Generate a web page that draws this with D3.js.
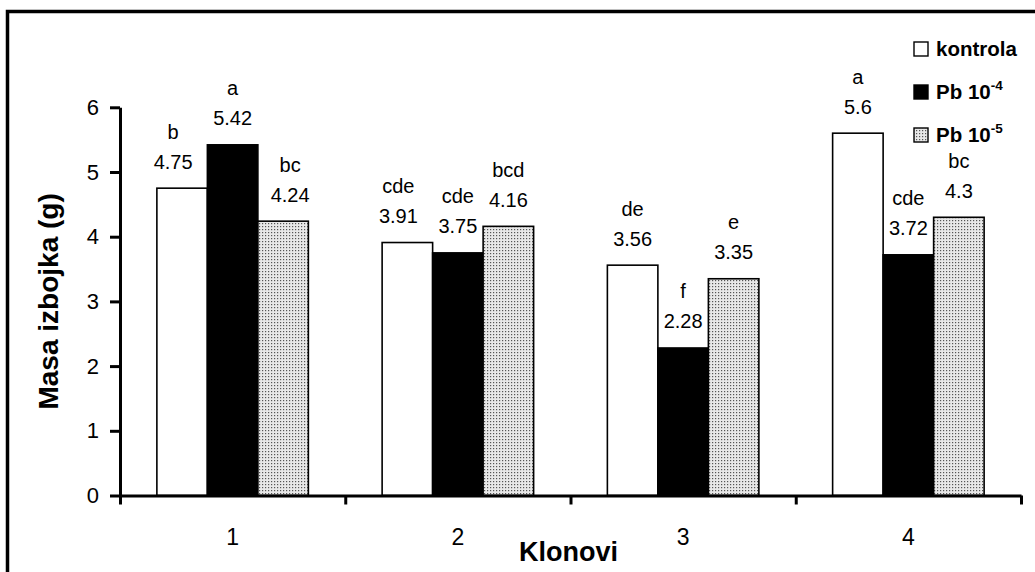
<!DOCTYPE html>
<html>
<head>
<meta charset="utf-8">
<script src="https://cdn.jsdelivr.net/npm/d3@7"></script>
<style>
  html, body { margin: 0; padding: 0; background: #fff; }
  svg { display: block; font-family: "Liberation Sans", Arial, sans-serif; }
</style>
</head>
<body>
<svg id="chart" width="1035" height="572"></svg>
<script>
// Shoot mass per clone, control vs. two lead treatments
const categories = ["1", "2", "3", "4"];
const kontrola = [4.75, 3.91, 3.56, 5.6];
const pb4 = [5.42, 3.75, 2.28, 3.72];
const pb5 = [4.24, 4.16, 3.35, 4.3];
const kontrolaLetters = ["b", "cde", "de", "a"];
const pb4Letters = ["a", "cde", "f", "cde"];
const pb5Letters = ["bc", "bcd", "e", "bc"];
const legendBase = ["kontrola", "Pb 10", "Pb 10"];
const legendExp = ["", "-4", "-5"];
const yTicks = [0, 1, 2, 3, 4, 5, 6];
const yTitle = "Masa izbojka (g)";
const xTitle = "Klonovi";

const series = [
  { values: kontrola, letters: kontrolaLetters, fill: "#fff" },
  { values: pb4, letters: pb4Letters, fill: "#000" },
  { values: pb5, letters: pb5Letters, fill: "url(#dots)" }
];

const svg = d3.select("#chart");

// dotted fill
const defs = svg.append("defs");
const pat = defs.append("pattern")
  .attr("id", "dots").attr("width", 3).attr("height", 3)
  .attr("patternUnits", "userSpaceOnUse");
pat.append("rect").attr("width", 3).attr("height", 3).attr("fill", "#e8e8e8");
pat.append("rect").attr("x", 1).attr("y", 1).attr("width", 1.2).attr("height", 1.2).attr("fill", "#555");

// outer frame (open to the right and bottom)
svg.append("path")
  .attr("d", "M7.5,580 L7.5,11.5 L1040,11.5")
  .attr("fill", "none").attr("stroke", "#000").attr("stroke-width", 3.5);

const plotLeft = 120, plotRight = 1021, plotTop = 107.3, plotBottom = 495.5;

const y = d3.scaleLinear().domain([0, 6]).range([plotBottom, plotTop]);
const x = d3.scaleBand().domain(categories).range([plotLeft, plotRight]).padding(0);
const groupW = 151.5;
const xs = d3.scaleBand().domain(d3.range(series.length)).range([0, groupW]).padding(0);

// bars
const bars = svg.append("g");
series.forEach((s, si) => {
  bars.selectAll(null)
    .data(s.values)
    .join("rect")
    .attr("x", (d, i) => x(categories[i]) + x.bandwidth() / 2 - groupW / 2 + xs(si))
    .attr("y", d => y(d))
    .attr("width", xs.bandwidth())
    .attr("height", d => y(0) - y(d))
    .attr("fill", s.fill)
    .attr("stroke", "#000")
    .attr("stroke-width", 1.6);
});

// value and significance labels above each bar
const nudge = { "0-0": -9, "0-2": 7, "1-0": -9 };
const labels = svg.append("g").attr("font-size", 20).attr("text-anchor", "middle").attr("fill", "#000");
series.forEach((s, si) => {
  s.values.forEach((v, i) => {
    const cx = x(categories[i]) + x.bandwidth() / 2 - groupW / 2 + xs(si) + xs.bandwidth() / 2 + (nudge[i + "-" + si] || 0);
    const base = y(v) - 19.5;
    labels.append("text").attr("x", cx).attr("y", base).text(String(v));
    labels.append("text").attr("x", cx).attr("y", base - 30).text(s.letters[i]);
  });
});

// y axis
const yAxis = svg.append("g")
  .attr("transform", `translate(${plotLeft},0)`)
  .call(d3.axisLeft(y).tickValues(yTicks).tickFormat(d3.format("d"))
    .tickSize(10).tickPadding(11).tickSizeOuter(0));
yAxis.select(".domain").attr("stroke-width", 3);
yAxis.selectAll(".tick line").attr("stroke-width", 3);
yAxis.selectAll(".tick text").attr("font-size", 22).attr("font-family", "Liberation Sans, Arial, sans-serif").attr("fill", "#000");

// x axis: ticks on category boundaries, labels at centres
const xb = d3.scaleLinear().domain([0, categories.length]).range([plotLeft, plotRight]);
const xAxis = svg.append("g")
  .attr("transform", `translate(0,${plotBottom})`)
  .call(d3.axisBottom(xb).tickValues(d3.range(categories.length + 1)).tickFormat("")
    .tickSize(9).tickSizeOuter(0));
xAxis.select(".domain").attr("stroke-width", 3);
xAxis.selectAll(".tick line").attr("stroke-width", 3);

svg.append("g").attr("font-size", 23).attr("text-anchor", "middle")
  .selectAll("text").data(categories).join("text")
  .attr("x", d => x(d) + x.bandwidth() / 2)
  .attr("y", 545)
  .text(d => d);

// axis titles
svg.append("text")
  .attr("x", (plotLeft + plotRight) / 2 - 2).attr("y", 561)
  .attr("text-anchor", "middle").attr("font-size", 27).attr("font-weight", "bold")
  .text(xTitle);

svg.append("text")
  .attr("transform", `translate(58,${(plotTop + plotBottom) / 2}) rotate(-90)`)
  .attr("text-anchor", "middle").attr("font-size", 28).attr("font-weight", "bold")
  .text(yTitle);

// legend
const legend = svg.append("g").attr("font-weight", "bold");
series.forEach((s, si) => {
  const by = 56 + si * 43;
  legend.append("rect")
    .attr("x", 914).attr("y", by - 14).attr("width", 14).attr("height", 14)
    .attr("fill", s.fill).attr("stroke", "#000").attr("stroke-width", 1.4);
  const t = legend.append("text").attr("x", 936).attr("y", by).attr("font-size", 20.5);
  t.append("tspan").text(legendBase[si]);
  if (legendExp[si]) {
    t.append("tspan").attr("font-size", 13.5).attr("dy", -9).text(legendExp[si]);
  }
});
</script>
</body>
</html>
